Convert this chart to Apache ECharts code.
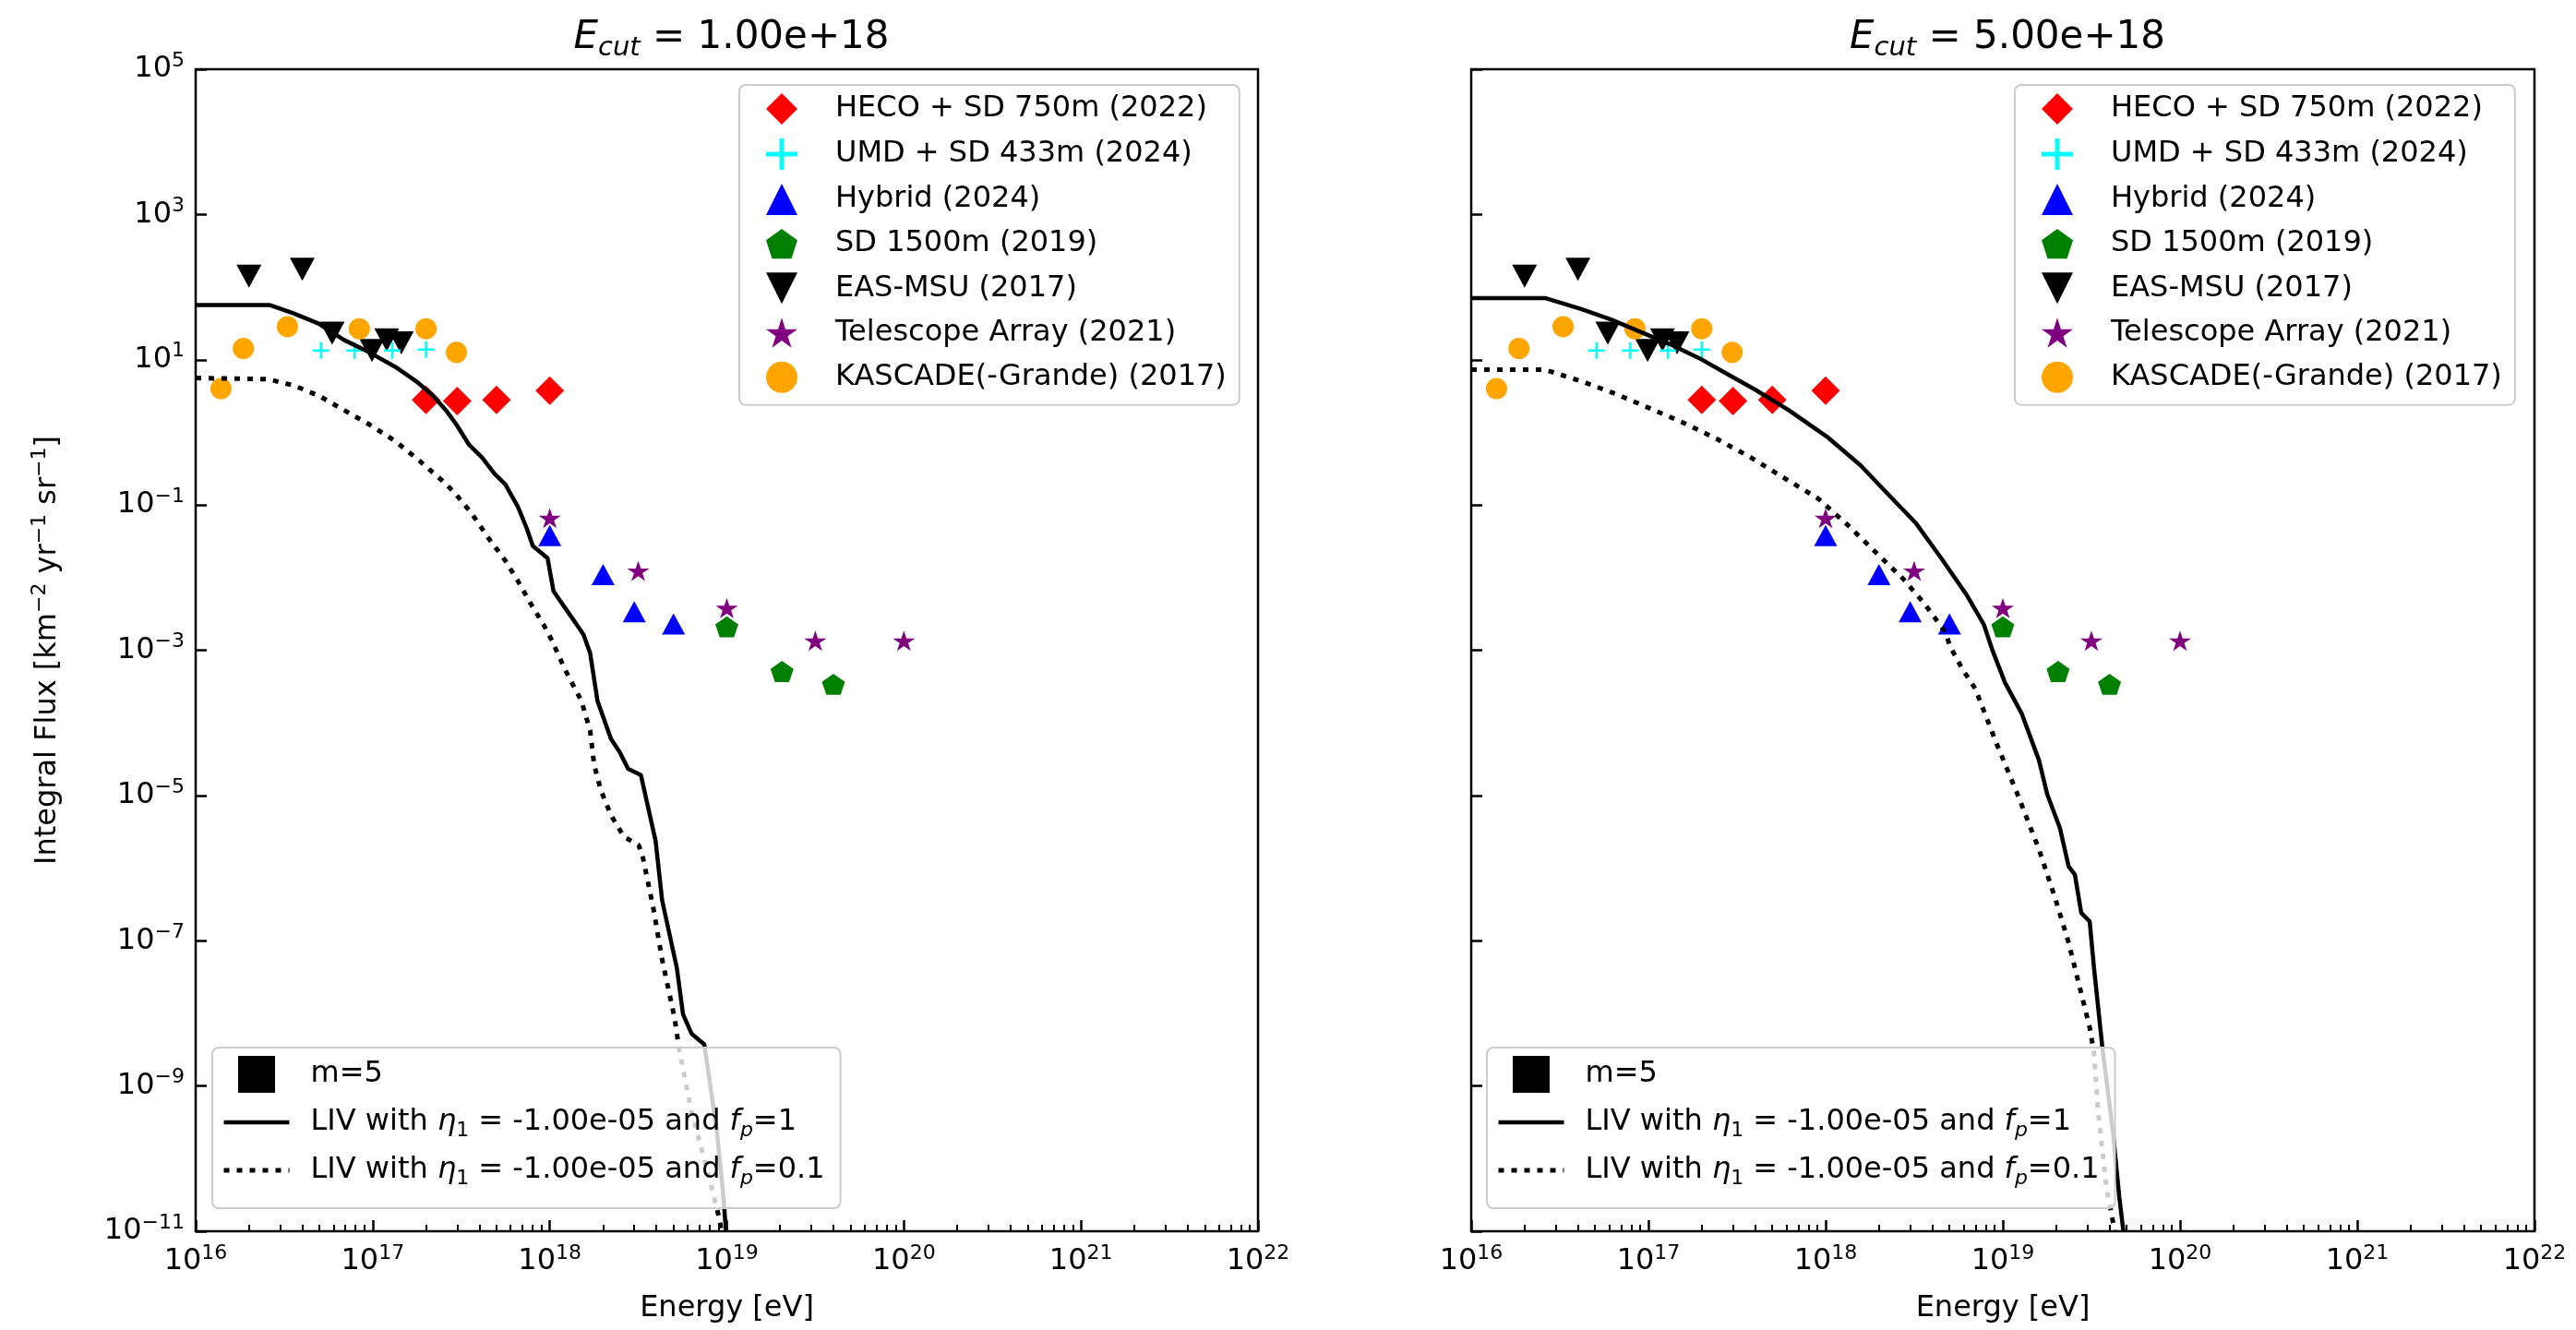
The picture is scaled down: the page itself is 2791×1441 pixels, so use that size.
<!DOCTYPE html>
<html>
<head>
<meta charset="utf-8">
<script src="https://cdn.jsdelivr.net/npm/echarts@6/dist/echarts.min.js"></script>
<style>
html,body{margin:0;padding:0;background:#ffffff;}
#c{width:2791px;height:1441px;}
</style>
</head>
<body>
<div id="c"></div>
<script>
// ---------------- data ----------------
const hecoE = [2e17, 3e17, 5e17, 1e18];
const hecoF = [2.8, 2.7, 2.8, 3.74];

const umdE = [5.1e16, 7.9e16, 1.29e17, 2.0e17];
const umdF = [13.4, 13.4, 13.4, 13.8];

const hybridE = [1e18, 2e18, 3e18, 5e18];
const hybridF = [0.038, 0.011, 0.0034, 0.0023];

const sd1500E = [1e19, 2.05e19, 4e19];
const sd1500F = [0.0021, 0.00051, 0.00034];

const easE = [2.0e16, 4.0e16, 5.9e16, 9.9e16, 1.2e17, 1.45e17];
const easF = [141, 176, 23.2, 13.4, 18.7, 17];

const taE = [1e18, 3.16e18, 1e19, 3.16e19, 1e20];
const taF = [0.066, 0.0124, 0.0038, 0.00135, 0.00135];

const kascadeE = [1.39e16, 1.86e16, 3.3e16, 8.4e16, 2.0e17, 2.97e17];
const kascadeF = [4.0, 14.3, 28.5, 26.7, 26.7, 12.6];

// LIV curves, E_cut = 1e18
const cutA_fp1_E = [1e16, 2.63e16, 3.56e16, 4.95e16, 6.89e16, 9.59e16, 1.34e17, 1.76e17, 2.19e17, 2.59e17, 2.97e17, 3.51e17, 4.14e17, 4.88e17, 5.60e17, 6.61e17, 7.38e17, 8.02e17, 9.72e17, 1.05e18, 1.24e18, 1.39e18, 1.55e18, 1.69e18, 1.86e18, 2.22e18, 2.48e18, 2.77e18, 3.27e18, 3.96e18, 4.31e18, 5.22e18, 5.66e18, 6.32e18, 7.46e18, 8.81e18, 9.57e18, 9.89e18];
const cutA_fp1_F = [56.5, 56.5, 43.6, 31.4, 18.7, 12.6, 7.98, 5.06, 3.20, 2.02, 1.28, 0.668, 0.451, 0.268, 0.193, 0.0942, 0.0490, 0.0273, 0.0185, 0.00649, 0.00361, 0.00243, 0.00164, 0.000914, 0.000200, 5.96e-5, 3.98e-5, 2.33e-5, 1.91e-5, 2.37e-6, 3.61e-7, 4.22e-8, 9.64e-9, 5.25e-9, 3.75e-9, 2.24e-10, 2.95e-11, 1e-11];

const cutA_fp01_E = [1e16, 2.56e16, 3.56e16, 4.95e16, 6.89e16, 9.59e16, 1.34e17, 1.86e17, 2.45e17, 2.89e17, 3.61e17, 4.49e17, 5.60e17, 6.61e17, 7.80e17, 9.20e17, 1.03e18, 1.21e18, 1.51e18, 1.69e18, 1.78e18, 1.94e18, 2.22e18, 2.62e18, 3.18e18, 3.36e18, 3.85e18, 4.31e18, 5.08e18, 5.37e18, 6.32e18, 7.89e18, 9.06e18, 9.33e18];
const cutA_fp01_F = [5.60, 5.40, 4.44, 3.20, 2.02, 1.28, 0.759, 0.395, 0.220, 0.149, 0.0773, 0.0354, 0.0172, 0.00897, 0.00438, 0.00228, 0.00135, 0.000562, 0.000200, 7.80e-5, 2.66e-5, 1.19e-5, 5.31e-6, 2.71e-6, 2.07e-6, 1.38e-6, 2.76e-7, 5.51e-8, 8.41e-9, 3.28e-9, 4.37e-10, 5.89e-11, 1.51e-11, 1e-11];

// LIV curves, E_cut = 5e18
const cutB_fp1_E = [1e16, 2.61e16, 4.18e16, 6.14e16, 9.02e16, 1.33e17, 1.95e17, 2.86e17, 3.99e17, 6.19e17, 1.02e18, 1.58e18, 2.20e18, 3.24e18, 4.50e18, 6.27e18, 7.80e18, 8.71e18, 1.03e19, 1.28e19, 1.60e19, 1.78e19, 2.10e19, 2.35e19, 2.55e19, 2.77e19, 3.09e19, 3.27e19, 3.65e19, 4.19e19, 4.54e19, 4.79e19];
const cutB_fp1_F = [70.6, 70.6, 49.7, 35.8, 24.2, 16.3, 10.4, 6.14, 3.89, 2.02, 0.867, 0.348, 0.149, 0.0558, 0.0184, 0.00569, 0.00228, 0.00102, 0.000355, 0.000133, 3.04e-5, 1.04e-5, 3.55e-6, 1.06e-6, 8.13e-7, 2.42e-7, 1.85e-7, 4.21e-8, 3.28e-9, 2.24e-10, 2.95e-11, 1e-11];

const cutB_fp01_E = [1e16, 2.61e16, 4.18e16, 6.49e16, 1.01e17, 1.56e17, 2.43e17, 3.78e17, 5.86e17, 9.10e17, 1.34e18, 1.97e18, 2.74e18, 3.61e18, 4.75e18, 5.02e18, 5.93e18, 6.98e18, 9.20e18, 1.21e19, 1.60e19, 1.99e19, 2.35e19, 2.77e19, 3.09e19, 3.27e19, 3.45e19, 3.85e19, 4.19e19, 4.27e19];
const cutB_fp01_F = [7.29, 7.29, 5.06, 3.41, 2.16, 1.37, 0.813, 0.451, 0.234, 0.122, 0.0524, 0.0209, 0.00959, 0.00438, 0.00176, 0.00115, 0.000542, 0.000298, 5.25e-5, 1.04e-5, 1.81e-6, 3.61e-7, 9.44e-8, 1.88e-8, 6.43e-9, 2.87e-9, 4.37e-10, 3.89e-11, 1.32e-11, 1e-11];

const ecutLabels = ['1.00e+18', '5.00e+18'];
const xTickValues = [1e16, 1e17, 1e18, 1e19, 1e20, 1e21, 1e22];
const yTickValues = [1e-11, 1e-9, 1e-7, 1e-5, 1e-3, 1e-1, 1e1, 1e3, 1e5];
const minorMantissas = [2, 3, 4, 5, 6, 7, 8, 9];

// ---------------- styling ----------------
const FONT = 'DejaVu Sans';
const PLUS = 'path://M-1,-0.14L-0.14,-0.14L-0.14,-1L0.14,-1L0.14,-0.14L1,-0.14L1,0.14L0.14,0.14L0.14,1L-0.14,1L-0.14,0.14L-1,0.14Z';
const PENTAGON = 'path://M0,-1L0.951,-0.309L0.588,0.809L-0.588,0.809L-0.951,-0.309Z';
const TRI_DOWN = 'path://M-1,-1L1,-1L0,1Z';
const TRI_UP = 'path://M0,-1L1,1L-1,1Z';
const DIAMOND = 'path://M0,-1L1,0L0,1L-1,0Z';
const SQUARE = 'path://M0,0L1,0L1,1L0,1Z';
const STAR = 'path://M0,-1L0.2245,-0.309L0.951,-0.309L0.3633,0.118L0.588,0.809L0,0.382L-0.588,0.809L-0.3633,0.118L-0.951,-0.309L-0.2245,-0.309Z';

const markerDefs = [
  {name: 'EAS-MSU (2017)', E: easE, F: easF, symbol: TRI_DOWN, size: [27, 25], color: '#000000'},
  {name: 'HECO + SD 750m (2022)', E: hecoE, F: hecoF, symbol: DIAMOND, size: [31, 31], color: '#ff0000'},
  {name: 'Hybrid (2024)', E: hybridE, F: hybridF, symbol: TRI_UP, size: [25, 23], color: '#0000ff'},
  {name: 'SD 1500m (2019)', E: sd1500E, F: sd1500F, symbol: PENTAGON, size: [25, 24], color: '#008000'},
  {name: 'Telescope Array (2021)', E: taE, F: taF, symbol: STAR, size: [24, 23], color: '#800080'},
  {name: 'UMD + SD 433m (2024)', E: umdE, F: umdF, symbol: PLUS, size: [18, 18], color: '#00ffff'},
  {name: 'KASCADE(-Grande) (2017)', E: kascadeE, F: kascadeF, symbol: 'circle', size: [23, 23], color: '#ffa500'}
];
const legendOrder = ['HECO + SD 750m (2022)', 'UMD + SD 433m (2024)', 'Hybrid (2024)', 'SD 1500m (2019)', 'EAS-MSU (2017)', 'Telescope Array (2021)', 'KASCADE(-Grande) (2017)'];

const NAME_M = 'm=5';
const NAME_FP1 = 'LIV fp=1';
const NAME_FP01 = 'LIV fp=0.1';
const curves = [
  {fp1: [cutA_fp1_E, cutA_fp1_F], fp01: [cutA_fp01_E, cutA_fp01_F]},
  {fp1: [cutB_fp1_E, cutB_fp1_F], fp01: [cutB_fp01_E, cutB_fp01_F]}
];
const DOT = [6, 8];

const grids = [
  {left: 212, top: 75, width: 1151, height: 1259},
  {left: 1594, top: 75, width: 1152, height: 1259}
];

function pairs(xs, ys) { return xs.map((x, i) => [x, ys[i]]); }
function expLabel(v) {
  const e = Math.round(Math.log10(v));
  return '{b|10}{s|' + String(e).replace('-', '\u2212') + '}';
}
const tickRich = {
  b: {fontSize: 32, lineHeight: 40, fontFamily: FONT, color: '#000'},
  s: {fontSize: 22, lineHeight: 22, verticalAlign: 'top', fontFamily: FONT, color: '#000'}
};

const minorTicks = [];
for (let d = 16; d < 22; d++) {
  minorMantissas.forEach(m => minorTicks.push(m * Math.pow(10, d)));
}

const xAxes = [];
const yAxes = [];
grids.forEach((g, i) => {
  xAxes.push({
    type: 'log', logBase: 10, gridIndex: i,
    min: xTickValues[0], max: xTickValues[xTickValues.length - 1], interval: 1,
    position: 'bottom',
    axisLine: {show: false},
    axisTick: {show: true, inside: true, length: 12, lineStyle: {color: '#000', width: 2.5}},
    axisLabel: {show: true, margin: 13, formatter: expLabel, rich: tickRich},
    splitLine: {show: false},
    minorTick: {show: false},
    name: 'Energy [eV]', nameLocation: 'middle', nameGap: 68,
    nameTextStyle: {fontSize: 32, fontFamily: FONT, color: '#000'}
  });
  yAxes.push({
    type: 'log', logBase: 10, gridIndex: i,
    min: yTickValues[0], max: yTickValues[yTickValues.length - 1], interval: 2,
    axisLine: {show: false},
    axisTick: {show: true, inside: true, length: 12, lineStyle: {color: '#000', width: 2.5}},
    axisLabel: {show: i === 0, margin: 12, formatter: expLabel, rich: tickRich},
    splitLine: {show: false},
    minorTick: {show: false},
    name: i === 0 ? 'Integral Flux [km{s|\u22122} yr{s|\u22121} sr{s|\u22121}]' : '',
    nameLocation: 'middle', nameGap: 140, nameRotate: 90,
    nameTextStyle: {fontSize: 32, lineHeight: 40, fontFamily: FONT, color: '#000',
      rich: {s: {fontSize: 22, lineHeight: 22, verticalAlign: 'top', fontFamily: FONT, color: '#000'}}}
  });
});
// minor tick axes
grids.forEach((g, i) => {
  xAxes.push({
    type: 'log', logBase: 10, gridIndex: i,
    min: xTickValues[0], max: xTickValues[xTickValues.length - 1],
    position: 'bottom',
    axisLine: {show: false},
    axisLabel: {show: false},
    splitLine: {show: false},
    axisTick: {show: true, inside: true, length: 7, customValues: minorTicks, lineStyle: {color: '#000', width: 2}}
  });
});

const series = [];
grids.forEach((g, i) => {
  markerDefs.forEach(m => {
    series.push({
      type: 'scatter', name: m.name, xAxisIndex: i, yAxisIndex: i,
      data: pairs(m.E, m.F), symbol: m.symbol, symbolSize: m.size, symbolKeepAspect: true,
      itemStyle: {color: m.color, opacity: 1}, z: 2
    });
  });
  series.push({
    type: 'scatter', name: NAME_M, xAxisIndex: i, yAxisIndex: i, data: [],
    symbol: SQUARE, symbolKeepAspect: true, itemStyle: {color: '#000000', opacity: 1}
  });
  series.push({
    type: 'line', name: NAME_FP1, xAxisIndex: i, yAxisIndex: i,
    data: pairs(curves[i].fp1[0], curves[i].fp1[1]),
    symbol: 'none', showSymbol: false, smooth: false, z: 3,
    itemStyle: {color: 'rgba(0,0,0,0)'},
    lineStyle: {color: '#000', width: 4.5, type: 'solid'}
  });
  series.push({
    type: 'line', name: NAME_FP01, xAxisIndex: i, yAxisIndex: i,
    data: pairs(curves[i].fp01[0], curves[i].fp01[1]),
    symbol: 'none', showSymbol: false, smooth: false, z: 3,
    itemStyle: {color: 'rgba(0,0,0,0)'},
    lineStyle: {color: '#000', width: 5, type: DOT, cap: 'butt'}
  });
});

const legendBox = {
  backgroundColor: 'rgba(255,255,255,0.8)', borderColor: '#cccccc', borderWidth: 2, borderRadius: 7,
  selectedMode: false, orient: 'vertical', symbolKeepAspect: true
};
const lineLegendText = {};
lineLegendText[NAME_M] = '{t|m=5}';
lineLegendText[NAME_FP1] = '{t|LIV with }{i|\u03b7}{sub|1}{n| = -1.00e-05 and }{i|f}{subi|p}{n|=1}';
lineLegendText[NAME_FP01] = '{t|LIV with }{i|\u03b7}{sub|1}{n| = -1.00e-05 and }{i|f}{subi|p}{n|=0.1}';

const legends = [];
[801, 2183].forEach(left => {
  legends.push(Object.assign({}, legendBox, {
    left: left, top: 92, itemWidth: 34, itemHeight: 34, itemGap: 15, padding: [9, 14, 13, 29],
    data: legendOrder,
    formatter: n => '{t|' + n + '}',
    textStyle: {fontSize: 32, fontFamily: FONT, color: '#000',
      rich: {t: {fontSize: 32, lineHeight: 34, padding: [0, 0, 0, 36], fontFamily: FONT, color: '#000'}}}
  }));
});
[230, 1611].forEach(left => {
  legends.push(Object.assign({}, legendBox, {
    left: left, top: 1135, itemWidth: 71, itemHeight: 40, itemGap: 16, padding: [9, 17, 21, 10],
    data: [
      {name: NAME_M, itemStyle: {color: '#000000', opacity: 1}},
      {name: NAME_FP1, lineStyle: {color: '#000', width: 4.5, type: 'solid'}},
      {name: NAME_FP01, lineStyle: {color: '#000', width: 5, type: DOT, cap: 'butt'}}
    ],
    formatter: n => lineLegendText[n],
    textStyle: {fontSize: 32, fontFamily: FONT, color: '#000',
      rich: {
        t: {fontSize: 32, lineHeight: 40, padding: [0, 0, 0, 18], fontFamily: FONT, color: '#000'},
        n: {fontSize: 32, lineHeight: 40, fontFamily: FONT, color: '#000'},
        i: {fontSize: 32, lineHeight: 40, fontStyle: 'italic', fontFamily: FONT, color: '#000'},
        sub: {fontSize: 22, lineHeight: 22, verticalAlign: 'bottom', fontFamily: FONT, color: '#000'},
        subi: {fontSize: 22, lineHeight: 22, verticalAlign: 'bottom', fontStyle: 'italic', fontFamily: FONT, color: '#000'}
      }}
  }));
});

const titles = grids.map((g, i) => ({
  text: '{i|E}{s|cut}{n| = ' + ecutLabels[i] + '}',
  left: g.left + g.width / 2, top: 10, textAlign: 'center',
  textStyle: {
    fontFamily: FONT, fontSize: 42, fontWeight: 'normal', color: '#000',
    rich: {
      i: {fontSize: 42, lineHeight: 52, fontStyle: 'italic', fontWeight: 'normal', fontFamily: FONT, color: '#000'},
      s: {fontSize: 29, lineHeight: 29, verticalAlign: 'bottom', fontStyle: 'italic', fontWeight: 'normal', fontFamily: FONT, color: '#000'},
      n: {fontSize: 42, lineHeight: 52, fontWeight: 'normal', fontFamily: FONT, color: '#000'}
    }
  }
}));

const option = {
  animation: false,
  backgroundColor: '#ffffff',
  textStyle: {fontFamily: FONT},
  title: titles,
  grid: grids.map(g => Object.assign({show: true, borderColor: '#000', borderWidth: 2.5, backgroundColor: 'transparent', containLabel: false}, g)),
  xAxis: xAxes,
  yAxis: yAxes,
  legend: legends,
  series: series
};

const chart = echarts.init(document.getElementById('c'), null, {renderer: 'canvas', width: 2791, height: 1441});
chart.setOption(option);
</script>
</body>
</html>
